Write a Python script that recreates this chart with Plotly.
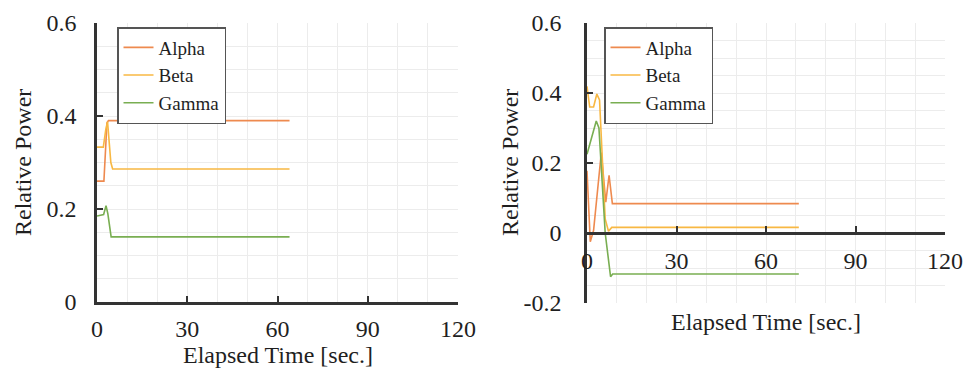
import plotly.graph_objects as go

# ---------------- data ----------------
series_names = ["Alpha", "Beta", "Gamma"]

# Left panel
left_alpha_t = [0, 2.3, 3.3, 3.8, 64]
left_alpha_v = [0.26, 0.26, 0.385, 0.39, 0.39]
left_beta_t = [0, 2.1, 2.9, 3.5, 4.6, 5.2, 64]
left_beta_v = [0.333, 0.333, 0.37, 0.388, 0.30, 0.286, 0.286]
left_gamma_t = [0, 2.2, 3.0, 3.6, 4.7, 64]
left_gamma_v = [0.185, 0.188, 0.207, 0.19, 0.14, 0.14]

# Right panel
right_alpha_t = [0, 1.1, 2.2, 4.8, 6.3, 7.4, 8.5, 71]
right_alpha_v = [0.178, -0.025, 0.007, 0.23, 0.088, 0.165, 0.084, 0.084]
right_beta_t = [0, 0.9, 2.2, 3.3, 4.2, 5.0, 6.1, 7.2, 8.3, 71]
right_beta_v = [0.419, 0.36, 0.36, 0.397, 0.38, 0.23, 0.04, 0.005, 0.016, 0.016]
right_gamma_t = [0, 3.1, 4.0, 6.1, 7.9, 8.6, 71]
right_gamma_v = [0.225, 0.32, 0.30, 0.0, -0.125, -0.117, -0.117]

x_ticks = [0, 30, 60, 90, 120]
x_ticktext = ["0", "30", "60", "90", "120"]
left_y_ticks = [0, 0.2, 0.4, 0.6]
left_y_ticktext = ["0", "0.2", "0.4", "0.6"]
right_y_ticks = [-0.2, 0, 0.2, 0.4, 0.6]
right_y_ticktext = ["-0.2", "0", "0.2", "0.4", "0.6"]

x_title = "Elapsed Time [sec.]"
y_title = "Relative Power"

# ---------------- style ----------------
colors = ["#EE8A4F", "#F8B843", "#79AE52"]
FONT = "'Liberation Serif', 'Times New Roman', serif"
AX = "#333333"
GRID = "#ececec"
TXT = "#1f1f1f"

fig = go.Figure()

left = [(left_alpha_t, left_alpha_v), (left_beta_t, left_beta_v), (left_gamma_t, left_gamma_v)]
right = [(right_alpha_t, right_alpha_v), (right_beta_t, right_beta_v), (right_gamma_t, right_gamma_v)]

for name, (t, v), c in zip(series_names, left, colors):
    fig.add_trace(go.Scatter(x=t, y=v, mode="lines", name=name,
                             line=dict(color=c, width=1.6),
                             xaxis="x", yaxis="y", legend="legend"))
for name, (t, v), c in zip(series_names, right, colors):
    fig.add_trace(go.Scatter(x=t, y=v, mode="lines", name=name,
                             line=dict(color=c, width=1.6),
                             xaxis="x2", yaxis="y2", legend="legend2"))

W, H = 971, 370
# plot areas (pixels)
L = dict(x0=97, x1=458, y0=23, y1=302)
R = dict(x0=587, x1=945, y0=23, y1=303)

def dom_x(a):
    return [a["x0"] / W, a["x1"] / W]

def dom_y(a):
    return [1 - a["y1"] / H, 1 - a["y0"] / H]

common_x = dict(range=[0, 120], tickvals=x_ticks, ticktext=x_ticktext,
                showline=True, linecolor=AX, linewidth=2.5,
                ticks="inside", ticklen=6, tickwidth=2, tickcolor=AX,
                showgrid=True, gridcolor=GRID, gridwidth=1,
                minor=dict(dtick=10, tick0=0, showgrid=True, gridcolor=GRID, gridwidth=1),
                zeroline=False, automargin=False,
                tickfont=dict(family=FONT, size=24, color=TXT),
                fixedrange=True)
common_y = dict(showline=True, linecolor=AX, linewidth=2.5,
                ticks="inside", ticklen=6, tickwidth=2, tickcolor=AX,
                showgrid=True, gridcolor=GRID, gridwidth=1,
                minor=dict(dtick=0.05, tick0=0, showgrid=True, gridcolor=GRID, gridwidth=1),
                zeroline=False, automargin=False,
                tickfont=dict(family=FONT, size=24, color=TXT),
                fixedrange=True)

ydomR = dom_y(R)
right_range = [-0.2, 0.6]
zero_frac = (0 - right_range[0]) / (right_range[1] - right_range[0])
x2_pos = ydomR[0] + zero_frac * (ydomR[1] - ydomR[0])

legend_style = dict(xanchor="left", yanchor="top",
                    bgcolor="white", bordercolor="#555555", borderwidth=1.5,
                    font=dict(family=FONT, size=19, color=TXT),
                    itemwidth=30, tracegroupgap=0)

fig.update_layout(
    template="none",
    width=W, height=H,
    margin=dict(l=0, r=0, t=0, b=0, pad=0, autoexpand=False),
    paper_bgcolor="white", plot_bgcolor="white",
    font=dict(family=FONT, color=TXT),
    xaxis=dict(common_x, domain=dom_x(L), anchor="y", ticklabelstandoff=3),
    yaxis=dict(common_y, domain=dom_y(L), anchor="x", range=[0, 0.6],
               tickvals=left_y_ticks, ticktext=left_y_ticktext, ticklabelstandoff=13),
    xaxis2=dict(common_x, domain=dom_x(R), anchor="free", position=x2_pos,
                ticklabelstandoff=5),
    yaxis2=dict(common_y, domain=ydomR, anchor="x2", range=right_range,
                tickvals=right_y_ticks, ticktext=right_y_ticktext, ticklabelstandoff=18),
    legend=dict(legend_style, x=117 / W, y=1 - 27 / H),
    legend2=dict(legend_style, x=604 / W, y=1 - 27 / H),
    showlegend=True,
)

title_font = dict(family=FONT, size=24, color=TXT)
annotations = [
    dict(text=x_title, x=(L["x0"] + L["x1"]) / 2 / W, y=1 - 355 / H, xref="paper", yref="paper",
         xanchor="center", yanchor="middle", showarrow=False, font=title_font),
    dict(text=x_title, x=(R["x0"] + R["x1"]) / 2 / W, y=1 - 322 / H, xref="paper", yref="paper",
         xanchor="center", yanchor="middle", showarrow=False, font=title_font),
    dict(text=y_title, x=23 / W, y=1 - 163 / H, xref="paper", yref="paper", textangle=-90,
         xanchor="center", yanchor="middle", showarrow=False, font=title_font),
    dict(text=y_title, x=510 / W, y=1 - 163 / H, xref="paper", yref="paper", textangle=-90,
         xanchor="center", yanchor="middle", showarrow=False, font=title_font),
]
fig.update_layout(annotations=annotations)

# remove the page's default body margin so the 971x370 figure fills the window exactly
fig.write_html("out.html", config=dict(displayModeBar=False),
               post_script="document.body.style.margin='0';document.body.style.overflow='hidden';")
